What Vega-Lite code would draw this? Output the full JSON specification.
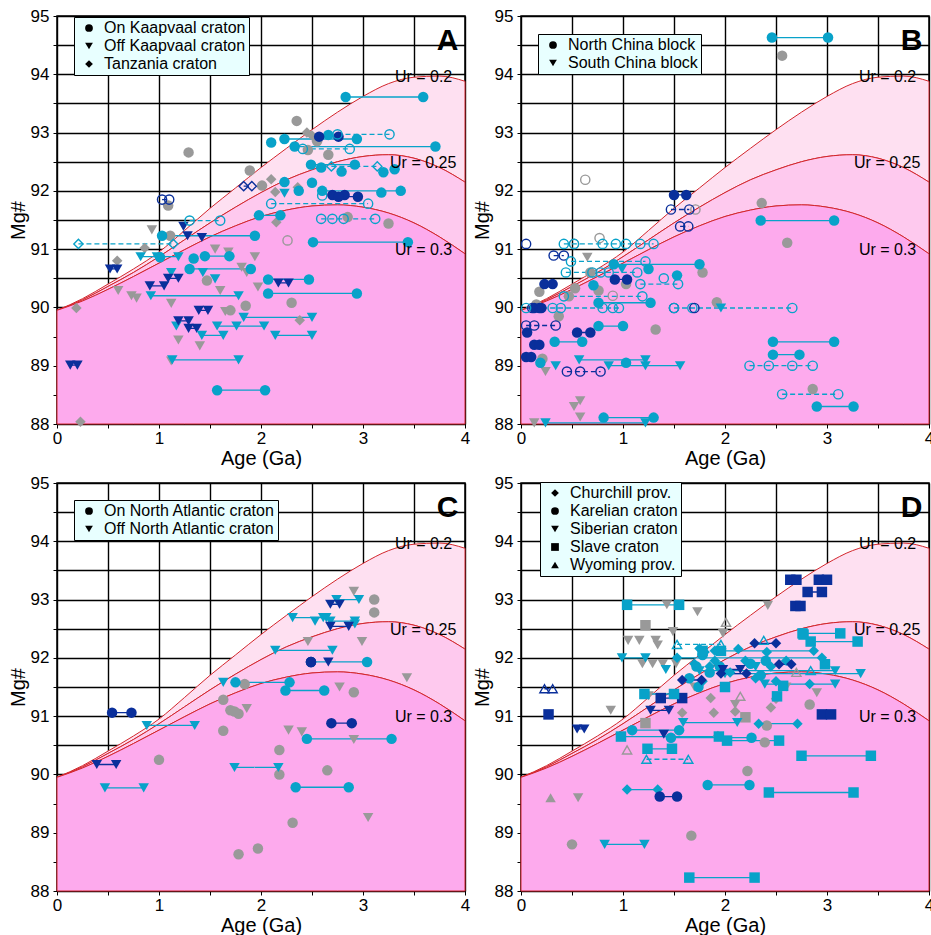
{
"$schema":"https://vega.github.io/schema/vega-lite/v6.json",
"padding":{"left":7,"top":6,"right":0,"bottom":0},
"background":"white",
"config":{
 "font":"Liberation Sans",
 "view":{"stroke":"#000","strokeWidth":1.5},
 "axis":{"labelFontSize":17,"titleFontSize":20,"titleFontWeight":"normal","labelColor":"#000","titleColor":"#000","tickColor":"#000","tickSize":4,"tickWidth":1,"gridColor":"#000","gridOpacity":1,"gridWidth":1.4,"domain":false,"labelFlush":false,"labelOverlap":false},
 "axisX":{"labelPadding":2,"titlePadding":2},
 "axisY":{"labelPadding":4,"titlePadding":2},
 "legend":{"labelFontSize":16,"labelColor":"#000","fillColor":"#e8ffff","strokeColor":"#000","padding":3,"rowPadding":2,"symbolSize":60,"symbolFillColor":"#000","symbolStrokeColor":"#000","symbolStrokeWidth":0,"symbolOffset":4,"labelOffset":7,"labelLimit":400,"symbolOpacity":1}
},
"resolve":{"scale":{"shape":"independent","color":"independent","stroke":"independent","fill":"independent","strokeDash":"independent"},"legend":{"shape":"independent"}},
"datasets":{
"cur":[
{"a":0,"m":89.95,"lo":89.95,"b":"l"},{"a":0.25,"m":90.15,"lo":90.13,"b":"l"},{"a":0.5,"m":90.40,"lo":90.36,"b":"l"},{"a":0.75,"m":90.66,"lo":90.60,"b":"l"},{"a":1,"m":90.95,"lo":90.87,"b":"l"},{"a":1.25,"m":91.32,"lo":91.16,"b":"l"},{"a":1.5,"m":91.70,"lo":91.45,"b":"l"},{"a":1.75,"m":92.05,"lo":91.72,"b":"l"},{"a":2,"m":92.40,"lo":91.97,"b":"l"},{"a":2.25,"m":92.73,"lo":92.19,"b":"l"},{"a":2.5,"m":93.05,"lo":92.36,"b":"l"},{"a":2.75,"m":93.35,"lo":92.50,"b":"l"},{"a":3,"m":93.62,"lo":92.59,"b":"l"},{"a":3.25,"m":93.84,"lo":92.62,"b":"l"},{"a":3.5,"m":93.95,"lo":92.56,"b":"l"},{"a":3.75,"m":93.97,"lo":92.40,"b":"l"},{"a":4,"m":93.88,"lo":92.15,"b":"l"},
{"a":0,"m":89.95,"lo":89.95,"b":"mi"},{"a":0.25,"m":90.13,"lo":90.11,"b":"mi"},{"a":0.5,"m":90.36,"lo":90.31,"b":"mi"},{"a":0.75,"m":90.60,"lo":90.53,"b":"mi"},{"a":1,"m":90.87,"lo":90.76,"b":"mi"},{"a":1.25,"m":91.16,"lo":90.99,"b":"mi"},{"a":1.5,"m":91.45,"lo":91.21,"b":"mi"},{"a":1.75,"m":91.72,"lo":91.40,"b":"mi"},{"a":2,"m":91.97,"lo":91.56,"b":"mi"},{"a":2.25,"m":92.19,"lo":91.67,"b":"mi"},{"a":2.5,"m":92.36,"lo":91.74,"b":"mi"},{"a":2.75,"m":92.50,"lo":91.76,"b":"mi"},{"a":3,"m":92.59,"lo":91.72,"b":"mi"},{"a":3.25,"m":92.62,"lo":91.62,"b":"mi"},{"a":3.5,"m":92.56,"lo":91.45,"b":"mi"},{"a":3.75,"m":92.40,"lo":91.21,"b":"mi"},{"a":4,"m":92.15,"lo":90.92,"b":"mi"},
{"a":0,"m":89.95,"lo":88,"b":"h"},{"a":0.25,"m":90.11,"lo":88,"b":"h"},{"a":0.5,"m":90.31,"lo":88,"b":"h"},{"a":0.75,"m":90.53,"lo":88,"b":"h"},{"a":1,"m":90.76,"lo":88,"b":"h"},{"a":1.25,"m":90.99,"lo":88,"b":"h"},{"a":1.5,"m":91.21,"lo":88,"b":"h"},{"a":1.75,"m":91.40,"lo":88,"b":"h"},{"a":2,"m":91.56,"lo":88,"b":"h"},{"a":2.25,"m":91.67,"lo":88,"b":"h"},{"a":2.5,"m":91.74,"lo":88,"b":"h"},{"a":2.75,"m":91.76,"lo":88,"b":"h"},{"a":3,"m":91.72,"lo":88,"b":"h"},{"a":3.25,"m":91.62,"lo":88,"b":"h"},{"a":3.5,"m":91.45,"lo":88,"b":"h"},{"a":3.75,"m":91.21,"lo":88,"b":"h"},{"a":4,"m":90.92,"lo":88,"b":"h"}
],
"ur":[{"a":3.875,"m":93.96,"t":"Ur = 0.2"},{"a":3.915,"m":92.47,"t":"Ur = 0.25"},{"a":3.875,"m":90.99,"t":"Ur = 0.3"}],
"let":[{"p":"A","a":3.83,"m":94.57,"t":"A"},{"p":"B","a":3.83,"m":94.57,"t":"B"},{"p":"C","a":3.83,"m":94.57,"t":"C"},{"p":"D","a":3.83,"m":94.57,"t":"D"}],
"ties":[
{"p":"A","a":2.83,"a2":3.59,"m":93.61,"s":"on","t":"c","o":0},
{"p":"A","a":2.57,"a2":2.76,"m":92.93,"s":"on","t":"d","o":0},
{"p":"A","a":2.75,"a2":3.26,"m":92.97,"s":"on","t":"c","o":1},
{"p":"A","a":2.23,"a2":2.94,"m":92.89,"s":"on","t":"c","o":0},
{"p":"A","a":2.33,"a2":3.71,"m":92.76,"s":"on","t":"c","o":0},
{"p":"A","a":2.41,"a2":2.87,"m":92.72,"s":"on","t":"c","o":1},
{"p":"A","a":2.49,"a2":2.92,"m":92.45,"s":"on","t":"c","o":0},
{"p":"A","a":2.69,"a2":3.14,"m":92.42,"s":"tz","t":"c","o":1},
{"p":"A","a":1.83,"a2":1.91,"m":92.08,"s":"tz","t":"d","o":1},
{"p":"A","a":2.60,"a2":3.37,"m":92.0,"s":"on","t":"c","o":0},
{"p":"A","a":2.70,"a2":2.82,"m":91.93,"s":"on","t":"d","o":0},
{"p":"A","a":2.76,"a2":2.95,"m":91.90,"s":"on","t":"d","o":0},
{"p":"A","a":2.10,"a2":3.05,"m":91.78,"s":"on","t":"c","o":1},
{"p":"A","a":1.03,"a2":1.10,"m":91.85,"s":"on","t":"d","o":1},
{"p":"A","a":1.98,"a2":2.19,"m":91.58,"s":"on","t":"c","o":0},
{"p":"A","a":2.59,"a2":3.12,"m":91.52,"s":"on","t":"c","o":1},
{"p":"A","a":1.30,"a2":1.60,"m":91.49,"s":"on","t":"c","o":1},
{"p":"A","a":0.21,"a2":1.14,"m":91.09,"s":"tz","t":"c","o":1},
{"p":"A","a":1.03,"a2":1.94,"m":91.23,"s":"on","t":"c","o":0},
{"p":"A","a":2.51,"a2":3.44,"m":91.12,"s":"on","t":"c","o":0},
{"p":"A","a":0.82,"a2":1.19,"m":90.87,"s":"off","t":"c","o":0},
{"p":"A","a":1.45,"a2":1.69,"m":90.88,"s":"on","t":"c","o":0},
{"p":"A","a":0.52,"a2":0.59,"m":90.66,"s":"off","t":"d","o":0},
{"p":"A","a":1.30,"a2":1.90,"m":90.66,"s":"on","t":"c","o":0},
{"p":"A","a":2.07,"a2":2.47,"m":90.48,"s":"on","t":"c","o":0},
{"p":"A","a":2.17,"a2":2.27,"m":90.42,"s":"off","t":"d","o":0},
{"p":"A","a":0.91,"a2":1.05,"m":90.37,"s":"off","t":"d","o":0},
{"p":"A","a":2.07,"a2":2.94,"m":90.24,"s":"on","t":"c","o":0},
{"p":"A","a":0.92,"a2":1.78,"m":90.20,"s":"off","t":"c","o":0},
{"p":"A","a":1.39,"a2":1.48,"m":89.95,"s":"off","t":"d","o":0},
{"p":"A","a":1.83,"a2":2.50,"m":89.83,"s":"off","t":"c","o":0},
{"p":"A","a":1.19,"a2":1.29,"m":89.77,"s":"off","t":"d","o":0},
{"p":"A","a":1.29,"a2":1.37,"m":89.64,"s":"off","t":"d","o":0},
{"p":"A","a":1.57,"a2":2.03,"m":89.68,"s":"off","t":"c","o":0},
{"p":"A","a":1.42,"a2":1.63,"m":89.52,"s":"off","t":"c","o":0},
{"p":"A","a":2.14,"a2":2.50,"m":89.52,"s":"off","t":"c","o":0},
{"p":"A","a":0.13,"a2":0.20,"m":89.01,"s":"off","t":"d","o":0},
{"p":"A","a":1.13,"a2":1.78,"m":89.10,"s":"off","t":"c","o":0},
{"p":"A","a":1.57,"a2":2.04,"m":88.58,"s":"on","t":"c","o":0},
{"p":"A","a":1.09,"a2":1.19,"m":90.50,"s":"off","t":"d","o":0},
{"p":"B","a":2.46,"a2":3.01,"m":94.63,"s":"nc","t":"c","o":0},
{"p":"B","a":1.50,"a2":1.62,"m":91.93,"s":"nc","t":"d","o":0},
{"p":"B","a":1.47,"a2":1.65,"m":91.68,"s":"nc","t":"d","o":1},
{"p":"B","a":2.35,"a2":3.07,"m":91.49,"s":"nc","t":"c","o":0},
{"p":"B","a":1.56,"a2":1.64,"m":91.39,"s":"nc","t":"d","o":1},
{"p":"B","a":0.42,"a2":1.30,"m":91.09,"s":"nc","t":"c","o":1},
{"p":"B","a":0.32,"a2":0.42,"m":90.89,"s":"nc","t":"d","o":1},
{"p":"B","a":0.49,"a2":1.22,"m":90.79,"s":"nc","t":"c","o":1},
{"p":"B","a":0.91,"a2":1.75,"m":90.74,"s":"nc","t":"c","o":0},
{"p":"B","a":0.44,"a2":1.14,"m":90.60,"s":"nc","t":"c","o":1},
{"p":"B","a":0.92,"a2":1.04,"m":90.48,"s":"nc","t":"d","o":0},
{"p":"B","a":1.17,"a2":1.54,"m":90.40,"s":"nc","t":"c","o":1},
{"p":"B","a":0.23,"a2":0.31,"m":90.40,"s":"nc","t":"d","o":0},
{"p":"B","a":0.42,"a2":1.19,"m":90.19,"s":"nc","t":"c","o":1},
{"p":"B","a":0.76,"a2":1.27,"m":90.08,"s":"nc","t":"c","o":0},
{"p":"B","a":0.05,"a2":0.96,"m":89.99,"s":"nc","t":"c","o":1},
{"p":"B","a":1.50,"a2":2.66,"m":89.99,"s":"nc","t":"c","o":1},
{"p":"B","a":0.05,"a2":0.34,"m":89.69,"s":"nc","t":"d","o":1},
{"p":"B","a":0.76,"a2":1.00,"m":89.68,"s":"nc","t":"c","o":0},
{"p":"B","a":0.55,"a2":0.68,"m":89.57,"s":"nc","t":"d","o":0},
{"p":"B","a":0.13,"a2":0.18,"m":89.36,"s":"nc","t":"d","o":0},
{"p":"B","a":0.33,"a2":0.60,"m":89.41,"s":"nc","t":"c","o":0},
{"p":"B","a":2.47,"a2":3.07,"m":89.41,"s":"nc","t":"c","o":0},
{"p":"B","a":2.47,"a2":2.73,"m":89.19,"s":"nc","t":"c","o":0},
{"p":"B","a":0.57,"a2":1.22,"m":89.10,"s":"sc","t":"c","o":0},
{"p":"B","a":0.86,"a2":1.56,"m":89.00,"s":"sc","t":"c","o":0},
{"p":"B","a":0.45,"a2":0.78,"m":88.90,"s":"nc","t":"d","o":1},
{"p":"B","a":2.24,"a2":2.86,"m":89.00,"s":"nc","t":"c","o":1},
{"p":"B","a":2.56,"a2":3.11,"m":88.51,"s":"nc","t":"c","o":1},
{"p":"B","a":2.90,"a2":3.26,"m":88.30,"s":"nc","t":"c","o":0},
{"p":"B","a":0.81,"a2":1.30,"m":88.11,"s":"nc","t":"c","o":0},
{"p":"B","a":0.24,"a2":1.22,"m":88.02,"s":"sc","t":"c","o":0},
{"p":"C","a":2.74,"a2":2.96,"m":93.00,"s":"off","t":"c","o":0},
{"p":"C","a":2.68,"a2":2.77,"m":92.92,"s":"off","t":"d","o":0},
{"p":"C","a":2.31,"a2":2.61,"m":92.69,"s":"off","t":"c","o":0},
{"p":"C","a":2.68,"a2":2.92,"m":92.63,"s":"off","t":"c","o":0},
{"p":"C","a":2.68,"a2":2.86,"m":92.54,"s":"off","t":"d","o":0},
{"p":"C","a":2.14,"a2":2.70,"m":92.13,"s":"off","t":"c","o":0},
{"p":"C","a":2.49,"a2":3.04,"m":91.93,"s":"on","t":"c","o":0},
{"p":"C","a":2.49,"a2":2.49,"m":91.93,"s":"on","t":"d","o":0},
{"p":"C","a":1.75,"a2":2.28,"m":91.58,"s":"on","t":"c","o":0},
{"p":"C","a":2.24,"a2":2.62,"m":91.44,"s":"on","t":"c","o":0},
{"p":"C","a":0.54,"a2":0.73,"m":91.06,"s":"on","t":"d","o":0},
{"p":"C","a":2.69,"a2":2.89,"m":90.88,"s":"on","t":"d","o":0},
{"p":"C","a":0.88,"a2":1.35,"m":90.84,"s":"off","t":"c","o":0},
{"p":"C","a":2.45,"a2":3.28,"m":90.61,"s":"on","t":"c","o":0},
{"p":"C","a":0.39,"a2":0.58,"m":90.17,"s":"off","t":"d","o":0},
{"p":"C","a":1.74,"a2":2.17,"m":90.12,"s":"off","t":"c","o":0},
{"p":"C","a":0.47,"a2":0.85,"m":89.77,"s":"off","t":"c","o":0},
{"p":"C","a":2.34,"a2":2.86,"m":89.78,"s":"on","t":"c","o":0},
{"p":"D","a":2.64,"a2":2.70,"m":93.34,"s":"sl","t":"d","o":0},
{"p":"D","a":2.92,"a2":3.00,"m":93.34,"s":"sl","t":"d","o":0},
{"p":"D","a":2.81,"a2":2.95,"m":93.13,"s":"sl","t":"d","o":0},
{"p":"D","a":2.69,"a2":2.74,"m":92.89,"s":"sl","t":"d","o":0},
{"p":"D","a":1.04,"a2":1.55,"m":92.91,"s":"sl","t":"c","o":0},
{"p":"D","a":2.76,"a2":3.13,"m":92.42,"s":"sl","t":"c","o":0},
{"p":"D","a":2.84,"a2":3.30,"m":92.28,"s":"sl","t":"c","o":0},
{"p":"D","a":1.53,"a2":1.96,"m":92.23,"s":"wy","t":"c","o":1},
{"p":"D","a":2.29,"a2":2.50,"m":92.25,"s":"ch","t":"d","o":0},
{"p":"D","a":0.99,"a2":1.22,"m":92.00,"s":"si","t":"c","o":0},
{"p":"D","a":1.58,"a2":1.77,"m":91.62,"s":"ch","t":"d","o":0},
{"p":"D","a":1.37,"a2":1.58,"m":91.31,"s":"sl","t":"d","o":0},
{"p":"D","a":1.21,"a2":1.50,"m":91.38,"s":"sl","t":"c","o":0},
{"p":"D","a":1.27,"a2":1.45,"m":91.10,"s":"si","t":"d","o":0},
{"p":"D","a":1.59,"a2":2.12,"m":90.89,"s":"si","t":"c","o":0},
{"p":"D","a":2.33,"a2":2.71,"m":90.87,"s":"ch","t":"c","o":0},
{"p":"D","a":2.95,"a2":3.04,"m":91.03,"s":"sl","t":"d","o":0},
{"p":"D","a":1.09,"a2":1.55,"m":90.76,"s":"ka","t":"c","o":0},
{"p":"D","a":0.98,"a2":1.94,"m":90.65,"s":"sl","t":"c","o":0},
{"p":"D","a":1.47,"a2":2.26,"m":90.63,"s":"ka","t":"c","o":0},
{"p":"D","a":2.02,"a2":2.53,"m":90.58,"s":"sl","t":"c","o":0},
{"p":"D","a":1.24,"a2":1.48,"m":90.44,"s":"sl","t":"c","o":0},
{"p":"D","a":1.23,"a2":1.64,"m":90.26,"s":"wy","t":"c","o":1},
{"p":"D","a":2.75,"a2":3.43,"m":90.32,"s":"sl","t":"c","o":0},
{"p":"D","a":1.83,"a2":2.24,"m":89.82,"s":"ka","t":"c","o":0},
{"p":"D","a":1.04,"a2":1.34,"m":89.74,"s":"ch","t":"c","o":0},
{"p":"D","a":2.43,"a2":3.26,"m":89.69,"s":"sl","t":"c","o":0},
{"p":"D","a":1.36,"a2":1.53,"m":89.62,"s":"ka","t":"d","o":0},
{"p":"D","a":0.82,"a2":1.21,"m":88.80,"s":"si","t":"c","o":0},
{"p":"D","a":1.65,"a2":2.29,"m":88.23,"s":"sl","t":"c","o":0},
{"p":"D","a":0.23,"a2":0.31,"m":91.47,"s":"wy","t":"d","o":1},
{"p":"D","a":0.55,"a2":0.62,"m":90.78,"s":"si","t":"d","o":0},
{"p":"D","a":1.75,"a2":3.08,"m":91.78,"s":"si","t":"c","o":0},
{"p":"D","a":2.39,"a2":3.08,"m":91.55,"s":"si","t":"c","o":0},
{"p":"D","a":1.90,"a2":2.87,"m":92.12,"s":"ch","t":"c","o":0},
{"p":"D","a":2.00,"a2":3.33,"m":91.73,"s":"si","t":"c","o":0},
{"p":"D","a":1.96,"a2":2.21,"m":91.73,"s":"ch","t":"d","o":0},
{"p":"D","a":2.53,"a2":2.65,"m":91.89,"s":"ch","t":"d","o":0},
{"p":"D","a":1.98,"a2":2.15,"m":91.80,"s":"si","t":"d","o":0},
{"p":"D","a":1.53,"a2":2.95,"m":92.00,"s":"ch","t":"c","o":0}
],
"pts":[
{"p":"A","a":2.35,"m":93.20,"s":"on","t":"g","o":0},{"p":"A","a":1.29,"m":92.66,"s":"on","t":"g","o":0},{"p":"A","a":2.66,"m":92.62,"s":"on","t":"g","o":0},{"p":"A","a":2.46,"m":92.70,"s":"on","t":"g","o":0},{"p":"A","a":1.89,"m":92.35,"s":"on","t":"g","o":0},{"p":"A","a":2.01,"m":92.09,"s":"on","t":"g","o":0},{"p":"A","a":1.09,"m":91.75,"s":"on","t":"g","o":0},{"p":"A","a":1.11,"m":91.23,"s":"on","t":"g","o":0},{"p":"A","a":3.25,"m":91.44,"s":"on","t":"g","o":0},{"p":"A","a":1.47,"m":90.46,"s":"on","t":"g","o":0},{"p":"A","a":2.30,"m":90.08,"s":"on","t":"g","o":0},{"p":"A","a":1.70,"m":89.95,"s":"on","t":"g","o":0},{"p":"A","a":1.85,"m":90.03,"s":"on","t":"g","o":0},{"p":"A","a":2.55,"m":92.85,"s":"on","t":"g","o":0},{"p":"A","a":2.85,"m":91.55,"s":"on","t":"g","o":0},
{"p":"A","a":2.26,"m":91.15,"s":"on","t":"g","o":1},
{"p":"A","a":2.45,"m":93.0,"s":"tz","t":"g","o":0},{"p":"A","a":2.10,"m":92.2,"s":"tz","t":"g","o":0},{"p":"A","a":2.14,"m":91.98,"s":"tz","t":"g","o":0},{"p":"A","a":2.15,"m":91.46,"s":"tz","t":"g","o":0},{"p":"A","a":0.86,"m":91.02,"s":"tz","t":"g","o":0},{"p":"A","a":0.59,"m":90.8,"s":"tz","t":"g","o":0},{"p":"A","a":0.19,"m":89.99,"s":"tz","t":"g","o":0},{"p":"A","a":2.38,"m":89.78,"s":"tz","t":"g","o":0},{"p":"A","a":0.23,"m":88.04,"s":"tz","t":"g","o":0},{"p":"A","a":2.36,"m":92.06,"s":"tz","t":"g","o":0},{"p":"A","a":2.50,"m":92.95,"s":"tz","t":"g","o":0},
{"p":"A","a":0.93,"m":91.33,"s":"off","t":"g","o":0},{"p":"A","a":1.94,"m":90.87,"s":"off","t":"g","o":0},{"p":"A","a":1.55,"m":91.0,"s":"off","t":"g","o":0},{"p":"A","a":1.68,"m":90.95,"s":"off","t":"g","o":0},{"p":"A","a":1.60,"m":90.29,"s":"off","t":"g","o":0},{"p":"A","a":1.81,"m":90.69,"s":"off","t":"g","o":0},{"p":"A","a":1.86,"m":90.6,"s":"off","t":"g","o":0},{"p":"A","a":1.97,"m":90.35,"s":"off","t":"g","o":0},{"p":"A","a":0.60,"m":90.29,"s":"off","t":"g","o":0},{"p":"A","a":0.73,"m":90.2,"s":"off","t":"g","o":0},{"p":"A","a":0.78,"m":90.16,"s":"off","t":"g","o":0},{"p":"A","a":1.12,"m":90.07,"s":"off","t":"g","o":0},{"p":"A","a":1.65,"m":89.93,"s":"off","t":"g","o":0},{"p":"A","a":1.19,"m":89.44,"s":"off","t":"g","o":0},{"p":"A","a":1.40,"m":89.34,"s":"off","t":"g","o":0},{"p":"A","a":1.12,"m":89.08,"s":"off","t":"g","o":0},
{"p":"A","a":2.10,"m":92.83,"s":"on","t":"c","o":0},{"p":"A","a":2.66,"m":92.96,"s":"on","t":"c","o":0},{"p":"A","a":2.50,"m":92.14,"s":"on","t":"c","o":0},{"p":"A","a":2.23,"m":92.15,"s":"on","t":"c","o":0},{"p":"A","a":2.37,"m":92.0,"s":"on","t":"c","o":0},{"p":"A","a":3.18,"m":91.97,"s":"on","t":"c","o":0},{"p":"A","a":2.79,"m":92.33,"s":"on","t":"c","o":0},{"p":"A","a":3.20,"m":92.32,"s":"on","t":"c","o":0},{"p":"A","a":3.31,"m":92.37,"s":"on","t":"c","o":0},{"p":"A","a":1.01,"m":90.86,"s":"on","t":"c","o":0},{"p":"A","a":1.34,"m":90.84,"s":"on","t":"c","o":0},{"p":"A","a":2.59,"m":92.40,"s":"on","t":"c","o":0},
{"p":"A","a":2.23,"m":91.96,"s":"off","t":"c","o":0},{"p":"A","a":1.12,"m":90.6,"s":"off","t":"c","o":0},{"p":"A","a":1.43,"m":90.6,"s":"off","t":"c","o":0},{"p":"A","a":1.55,"m":90.49,"s":"off","t":"c","o":0},{"p":"A","a":0.98,"m":90.87,"s":"off","t":"c","o":0},{"p":"A","a":1.76,"m":89.68,"s":"off","t":"c","o":0},{"p":"A","a":1.17,"m":89.68,"s":"off","t":"c","o":0},
{"p":"A","a":2.60,"m":91.92,"s":"on","t":"c","o":1},{"p":"A","a":2.70,"m":91.52,"s":"on","t":"c","o":1},{"p":"A","a":2.81,"m":91.52,"s":"on","t":"c","o":1},
{"p":"A","a":1.24,"m":91.39,"s":"off","t":"d","o":0},{"p":"A","a":1.28,"m":91.23,"s":"off","t":"d","o":0},{"p":"A","a":1.42,"m":91.2,"s":"off","t":"d","o":0},
{"p":"B","a":2.56,"m":94.32,"s":"nc","t":"g","o":0},{"p":"B","a":2.36,"m":91.79,"s":"nc","t":"g","o":0},{"p":"B","a":2.61,"m":91.11,"s":"nc","t":"g","o":0},{"p":"B","a":1.78,"m":90.60,"s":"nc","t":"g","o":0},{"p":"B","a":0.68,"m":90.60,"s":"nc","t":"g","o":0},{"p":"B","a":0.18,"m":90.27,"s":"nc","t":"g","o":0},{"p":"B","a":0.53,"m":90.33,"s":"nc","t":"g","o":0},{"p":"B","a":0.76,"m":90.29,"s":"nc","t":"g","o":0},{"p":"B","a":1.03,"m":90.40,"s":"nc","t":"g","o":0},{"p":"B","a":0.47,"m":90.19,"s":"nc","t":"g","o":0},{"p":"B","a":1.92,"m":90.09,"s":"nc","t":"g","o":0},{"p":"B","a":0.37,"m":89.85,"s":"nc","t":"g","o":0},{"p":"B","a":1.32,"m":89.62,"s":"nc","t":"g","o":0},{"p":"B","a":0.21,"m":89.12,"s":"nc","t":"g","o":0},{"p":"B","a":2.86,"m":88.60,"s":"nc","t":"g","o":0},{"p":"B","a":0.15,"m":90.05,"s":"nc","t":"g","o":0},
{"p":"B","a":0.63,"m":92.19,"s":"nc","t":"g","o":1},{"p":"B","a":1.71,"m":91.68,"s":"nc","t":"g","o":1},{"p":"B","a":0.77,"m":91.19,"s":"nc","t":"g","o":1},{"p":"B","a":0.52,"m":91.09,"s":"nc","t":"g","o":1},{"p":"B","a":0.90,"m":90.20,"s":"nc","t":"g","o":1},
{"p":"B","a":0.52,"m":91.09,"s":"nc","t":"c","o":1},{"p":"B","a":0.80,"m":91.09,"s":"nc","t":"c","o":1},{"p":"B","a":0.93,"m":91.09,"s":"nc","t":"c","o":1},{"p":"B","a":1.03,"m":91.09,"s":"nc","t":"c","o":1},{"p":"B","a":1.17,"m":91.09,"s":"nc","t":"c","o":1},{"p":"B","a":0.70,"m":90.60,"s":"nc","t":"c","o":1},{"p":"B","a":0.78,"m":90.60,"s":"nc","t":"c","o":1},{"p":"B","a":0.86,"m":90.60,"s":"nc","t":"c","o":1},{"p":"B","a":1.40,"m":90.50,"s":"nc","t":"c","o":1},{"p":"B","a":0.31,"m":89.99,"s":"nc","t":"c","o":1},{"p":"B","a":0.39,"m":89.99,"s":"nc","t":"c","o":1},{"p":"B","a":0.80,"m":89.99,"s":"nc","t":"c","o":1},{"p":"B","a":0.90,"m":89.99,"s":"nc","t":"c","o":1},{"p":"B","a":2.43,"m":89.0,"s":"nc","t":"c","o":1},{"p":"B","a":2.66,"m":89.0,"s":"nc","t":"c","o":1},{"p":"B","a":1.68,"m":89.99,"s":"nc","t":"c","o":1},
{"p":"B","a":0.05,"m":91.09,"s":"nc","t":"d","o":1},{"p":"B","a":0.11,"m":89.99,"s":"nc","t":"d","o":1},{"p":"B","a":0.18,"m":89.99,"s":"nc","t":"d","o":1},{"p":"B","a":1.50,"m":89.99,"s":"nc","t":"d","o":1},{"p":"B","a":1.70,"m":89.99,"s":"nc","t":"d","o":1},{"p":"B","a":0.58,"m":88.9,"s":"nc","t":"d","o":1},{"p":"B","a":0.13,"m":89.69,"s":"nc","t":"d","o":1},
{"p":"B","a":0.13,"m":89.99,"s":"nc","t":"d","o":0},{"p":"B","a":0.20,"m":89.99,"s":"nc","t":"d","o":0},{"p":"B","a":0.06,"m":89.57,"s":"nc","t":"d","o":0},{"p":"B","a":0.05,"m":89.15,"s":"nc","t":"d","o":0},{"p":"B","a":0.10,"m":89.15,"s":"nc","t":"d","o":0},
{"p":"B","a":0.65,"m":90.86,"s":"sc","t":"g","o":0},{"p":"B","a":0.24,"m":88.90,"s":"sc","t":"g","o":0},{"p":"B","a":0.52,"m":88.30,"s":"sc","t":"g","o":0},{"p":"B","a":0.58,"m":88.40,"s":"sc","t":"g","o":0},{"p":"B","a":0.58,"m":88.12,"s":"sc","t":"g","o":0},{"p":"B","a":0.13,"m":88.02,"s":"sc","t":"g","o":0},
{"p":"B","a":0.99,"m":90.66,"s":"sc","t":"c","o":0},{"p":"B","a":0.34,"m":89.0,"s":"sc","t":"c","o":0},{"p":"B","a":1.96,"m":89.99,"s":"sc","t":"c","o":0},{"p":"B","a":1.22,"m":89.0,"s":"sc","t":"c","o":0},
{"p":"B","a":1.25,"m":90.66,"s":"nc","t":"c","o":0},{"p":"B","a":1.53,"m":90.55,"s":"nc","t":"c","o":0},{"p":"B","a":0.71,"m":90.38,"s":"nc","t":"c","o":0},{"p":"B","a":0.19,"m":89.05,"s":"nc","t":"c","o":0},{"p":"B","a":1.03,"m":89.05,"s":"nc","t":"c","o":0},
{"p":"C","a":2.91,"m":93.14,"s":"off","t":"g","o":0},{"p":"C","a":2.46,"m":92.28,"s":"off","t":"g","o":0},{"p":"C","a":2.99,"m":92.28,"s":"off","t":"g","o":0},{"p":"C","a":3.43,"m":91.66,"s":"off","t":"g","o":0},{"p":"C","a":2.77,"m":91.50,"s":"off","t":"g","o":0},{"p":"C","a":1.86,"m":91.13,"s":"off","t":"g","o":0},{"p":"C","a":2.27,"m":90.76,"s":"off","t":"g","o":0},{"p":"C","a":2.40,"m":90.73,"s":"off","t":"g","o":0},{"p":"C","a":2.91,"m":90.60,"s":"off","t":"g","o":0},{"p":"C","a":3.05,"m":89.26,"s":"off","t":"g","o":0},
{"p":"C","a":3.11,"m":93.00,"s":"on","t":"g","o":0},{"p":"C","a":3.11,"m":92.78,"s":"on","t":"g","o":0},{"p":"C","a":1.84,"m":91.55,"s":"on","t":"g","o":0},{"p":"C","a":2.91,"m":91.41,"s":"on","t":"g","o":0},{"p":"C","a":1.63,"m":91.28,"s":"on","t":"g","o":0},{"p":"C","a":1.70,"m":91.10,"s":"on","t":"g","o":0},{"p":"C","a":1.78,"m":91.04,"s":"on","t":"g","o":0},{"p":"C","a":1.74,"m":91.08,"s":"on","t":"g","o":0},{"p":"C","a":1.63,"m":90.75,"s":"on","t":"g","o":0},{"p":"C","a":2.18,"m":90.42,"s":"on","t":"g","o":0},{"p":"C","a":1.00,"m":90.25,"s":"on","t":"g","o":0},{"p":"C","a":2.18,"m":90.00,"s":"on","t":"g","o":0},{"p":"C","a":2.65,"m":90.07,"s":"on","t":"g","o":0},{"p":"C","a":2.31,"m":89.17,"s":"on","t":"g","o":0},{"p":"C","a":1.78,"m":88.63,"s":"on","t":"g","o":0},{"p":"C","a":1.97,"m":88.73,"s":"on","t":"g","o":0},
{"p":"C","a":1.63,"m":91.58,"s":"off","t":"c","o":0},{"p":"C","a":2.53,"m":92.63,"s":"off","t":"c","o":0},{"p":"C","a":2.64,"m":92.69,"s":"off","t":"c","o":0},{"p":"C","a":2.92,"m":92.58,"s":"off","t":"c","o":0},
{"p":"C","a":2.66,"m":91.93,"s":"off","t":"d","o":0},
{"p":"D","a":2.42,"m":92.90,"s":"si","t":"g","o":0},{"p":"D","a":1.43,"m":92.91,"s":"si","t":"g","o":0},{"p":"D","a":1.73,"m":92.79,"s":"si","t":"g","o":0},{"p":"D","a":1.98,"m":92.42,"s":"si","t":"g","o":0},{"p":"D","a":1.32,"m":92.30,"s":"si","t":"g","o":0},{"p":"D","a":1.34,"m":92.22,"s":"si","t":"g","o":0},{"p":"D","a":1.05,"m":92.30,"s":"si","t":"g","o":0},{"p":"D","a":1.16,"m":92.30,"s":"si","t":"g","o":0},{"p":"D","a":1.49,"m":92.45,"s":"si","t":"g","o":0},{"p":"D","a":1.19,"m":91.90,"s":"si","t":"g","o":0},{"p":"D","a":1.29,"m":91.90,"s":"si","t":"g","o":0},{"p":"D","a":1.39,"m":91.90,"s":"si","t":"g","o":0},{"p":"D","a":1.52,"m":91.90,"s":"si","t":"g","o":0},{"p":"D","a":0.88,"m":91.10,"s":"si","t":"g","o":0},{"p":"D","a":0.56,"m":89.60,"s":"si","t":"g","o":0},{"p":"D","a":1.70,"m":91.50,"s":"si","t":"g","o":0},{"p":"D","a":2.10,"m":91.20,"s":"si","t":"g","o":0},{"p":"D","a":1.25,"m":91.35,"s":"si","t":"g","o":0},{"p":"D","a":2.60,"m":91.50,"s":"si","t":"g","o":0},{"p":"D","a":2.90,"m":91.40,"s":"si","t":"g","o":0},
{"p":"D","a":2.01,"m":92.61,"s":"wy","t":"g","o":1},{"p":"D","a":1.04,"m":90.42,"s":"wy","t":"g","o":1},{"p":"D","a":2.15,"m":91.34,"s":"wy","t":"g","o":1},{"p":"D","a":2.70,"m":91.75,"s":"wy","t":"g","o":1},
{"p":"D","a":0.29,"m":89.60,"s":"wy","t":"g","o":0},
{"p":"D","a":1.22,"m":92.56,"s":"sl","t":"g","o":0},{"p":"D","a":1.22,"m":90.88,"s":"sl","t":"g","o":0},{"p":"D","a":2.20,"m":90.98,"s":"sl","t":"g","o":0},
{"p":"D","a":1.86,"m":91.31,"s":"ch","t":"g","o":0},{"p":"D","a":1.89,"m":91.06,"s":"ch","t":"g","o":0},{"p":"D","a":2.10,"m":91.08,"s":"ch","t":"g","o":0},{"p":"D","a":1.58,"m":91.06,"s":"ch","t":"g","o":0},{"p":"D","a":1.93,"m":90.66,"s":"ch","t":"g","o":0},{"p":"D","a":2.50,"m":91.30,"s":"ch","t":"g","o":0},{"p":"D","a":2.45,"m":91.15,"s":"ch","t":"g","o":0},
{"p":"D","a":2.83,"m":91.20,"s":"ka","t":"g","o":0},{"p":"D","a":2.41,"m":90.84,"s":"ka","t":"g","o":0},{"p":"D","a":2.39,"m":90.55,"s":"ka","t":"g","o":0},{"p":"D","a":2.22,"m":90.06,"s":"ka","t":"g","o":0},{"p":"D","a":1.67,"m":88.95,"s":"ka","t":"g","o":0},{"p":"D","a":0.50,"m":88.80,"s":"ka","t":"g","o":0},
{"p":"D","a":0.27,"m":91.03,"s":"sl","t":"d","o":0},{"p":"D","a":1.40,"m":90.69,"s":"si","t":"d","o":0},
{"p":"D","a":1.75,"m":92.16,"s":"ch","t":"c","o":0},{"p":"D","a":1.80,"m":92.10,"s":"ch","t":"c","o":0},{"p":"D","a":2.13,"m":92.15,"s":"ch","t":"c","o":0},{"p":"D","a":2.41,"m":92.10,"s":"ch","t":"c","o":0},{"p":"D","a":1.70,"m":91.90,"s":"ch","t":"c","o":0},{"p":"D","a":1.85,"m":91.85,"s":"ch","t":"c","o":0},{"p":"D","a":1.90,"m":91.95,"s":"ch","t":"c","o":0},{"p":"D","a":2.20,"m":91.95,"s":"ch","t":"c","o":0},{"p":"D","a":2.45,"m":91.85,"s":"ch","t":"c","o":0},{"p":"D","a":2.60,"m":91.95,"s":"ch","t":"c","o":0},{"p":"D","a":2.30,"m":91.65,"s":"ch","t":"c","o":0},{"p":"D","a":1.78,"m":91.60,"s":"ch","t":"c","o":0},{"p":"D","a":2.05,"m":91.75,"s":"ch","t":"c","o":0},{"p":"D","a":2.50,"m":91.60,"s":"ch","t":"c","o":0},{"p":"D","a":2.83,"m":91.55,"s":"ch","t":"c","o":0},
{"p":"D","a":1.72,"m":91.85,"s":"ka","t":"c","o":0},{"p":"D","a":1.78,"m":92.05,"s":"ka","t":"c","o":0},{"p":"D","a":1.85,"m":91.75,"s":"ka","t":"c","o":0},{"p":"D","a":1.95,"m":91.85,"s":"ka","t":"c","o":0},{"p":"D","a":2.25,"m":91.90,"s":"ka","t":"c","o":0},{"p":"D","a":2.35,"m":91.70,"s":"ka","t":"c","o":0},{"p":"D","a":1.74,"m":91.50,"s":"ka","t":"c","o":0},{"p":"D","a":2.40,"m":91.95,"s":"ka","t":"c","o":0},{"p":"D","a":1.65,"m":91.65,"s":"ka","t":"c","o":0},
{"p":"D","a":2.77,"m":92.40,"s":"sl","t":"c","o":0},{"p":"D","a":2.98,"m":91.89,"s":"sl","t":"c","o":0},{"p":"D","a":2.57,"m":91.52,"s":"sl","t":"c","o":0},{"p":"D","a":2.51,"m":91.34,"s":"sl","t":"c","o":0},{"p":"D","a":2.00,"m":91.50,"s":"sl","t":"c","o":0},{"p":"D","a":1.78,"m":92.12,"s":"sl","t":"c","o":0},{"p":"D","a":1.96,"m":92.12,"s":"sl","t":"c","o":0},
{"p":"D","a":2.30,"m":91.85,"s":"si","t":"c","o":0},{"p":"D","a":1.42,"m":91.80,"s":"si","t":"c","o":0},
{"p":"D","a":2.38,"m":92.30,"s":"wy","t":"c","o":1},{"p":"D","a":2.84,"m":91.78,"s":"wy","t":"c","o":1}
]
},
"columns":2,
"bounds":"flush",
"spacing":{"row":59,"column":56},
"concat":[
{"width":408,"height":408,
"encoding":{
 "x":{"field":"a","type":"quantitative","title":"Age (Ga)","scale":{"domain":[0,4],"nice":false,"zero":false},"axis":{"values":[0,0.5,1,1.5,2,2.5,3,3.5,4],"labelExpr":"datum.value % 1 === 0 ? format(datum.value,'d') : ''"}},
 "y":{"field":"m","type":"quantitative","title":"Mg#","scale":{"domain":[88,95],"nice":false,"zero":false},"axis":{"values":[88,88.5,89,89.5,90,90.5,91,91.5,92,92.5,93,93.5,94,94.5,95],"labelExpr":"datum.value % 1 === 0 ? format(datum.value,'d') : ''"}},
 "color":{"field":"t","type":"nominal","scale":{"domain":["d","c","g"],"range":["#0a2f9b","#08a2c9","#999999"]},"legend":null},
 "shape":{"field":"s","type":"nominal","scale":{"domain":["on","off","tz"],"range":["circle","triangle-down","diamond"]},"legend":null}
},
"layer":[
 {"data":{"name":"cur"},"mark":{"type":"area","stroke":"#d3262c","strokeWidth":1,"opacity":1,"interpolate":"monotone"},"encoding":{"y2":{"field":"lo"},"color":null,"shape":null,"fill":{"field":"b","type":"nominal","scale":{"domain":["l","mi","h"],"range":["#fee0f1","#fec9ee","#fdaaed"]},"legend":null}}},
 {"data":{"name":"ties"},"transform":[{"filter":"datum.p === 'A'"}],"mark":{"type":"rule","strokeWidth":1.3},"encoding":{"x2":{"field":"a2"},"shape":null,"strokeDash":{"field":"o","type":"nominal","scale":{"domain":[0,1],"range":[[1,0],[5,3]]},"legend":null}}},
 {"data":{"name":"pts"},"transform":[{"filter":"datum.p === 'A' && datum.o === 0"}],"mark":{"type":"point","filled":true,"size":110,"opacity":1},"encoding":{"shape":{"field":"s","type":"nominal","scale":{"domain":["on","off","tz"],"range":["circle","triangle-down","diamond"]},"legend":{"title":null,"orient":"none","legendX":17,"legendY":1,"labelExpr":"datum.label === 'on' ? 'On Kaapvaal craton' : datum.label === 'off' ? 'Off Kaapvaal craton' : 'Tanzania craton'"}}}},
 {"data":{"name":"pts"},"transform":[{"filter":"datum.p === 'A' && datum.o === 1"}],"mark":{"type":"point","filled":false,"size":85,"strokeWidth":1.4,"opacity":1}},
 {"data":{"name":"ties"},"transform":[{"filter":"datum.p === 'A' && datum.o === 0"},{"fold":["a","a2"],"as":["k","a"]}],"mark":{"type":"point","filled":true,"size":110,"opacity":1}},
 {"data":{"name":"ties"},"transform":[{"filter":"datum.p === 'A' && datum.o === 1"},{"fold":["a","a2"],"as":["k","a"]}],"mark":{"type":"point","filled":false,"size":85,"strokeWidth":1.4,"opacity":1}},
 {"data":{"name":"ur"},"mark":{"type":"text","align":"right","baseline":"middle","fontSize":16,"color":"#000"},"encoding":{"text":{"field":"t"},"color":null,"shape":null}},
 {"data":{"name":"let"},"transform":[{"filter":"datum.p === 'A'"}],"mark":{"type":"text","align":"center","baseline":"middle","fontSize":30,"fontWeight":"bold","color":"#000"},"encoding":{"text":{"field":"t"},"color":null,"shape":null}}
]},
{"width":408,"height":408,
"encoding":{
 "x":{"field":"a","type":"quantitative","title":"Age (Ga)","scale":{"domain":[0,4],"nice":false,"zero":false},"axis":{"values":[0,0.5,1,1.5,2,2.5,3,3.5,4],"labelExpr":"datum.value % 1 === 0 ? format(datum.value,'d') : ''"}},
 "y":{"field":"m","type":"quantitative","title":"Mg#","scale":{"domain":[88,95],"nice":false,"zero":false},"axis":{"values":[88,88.5,89,89.5,90,90.5,91,91.5,92,92.5,93,93.5,94,94.5,95],"labelExpr":"datum.value % 1 === 0 ? format(datum.value,'d') : ''"}},
 "color":{"field":"t","type":"nominal","scale":{"domain":["d","c","g"],"range":["#0a2f9b","#08a2c9","#999999"]},"legend":null},
 "shape":{"field":"s","type":"nominal","scale":{"domain":["nc","sc"],"range":["circle","triangle-down"]},"legend":null}
},
"layer":[
 {"data":{"name":"cur"},"mark":{"type":"area","stroke":"#d3262c","strokeWidth":1,"opacity":1,"interpolate":"monotone"},"encoding":{"y2":{"field":"lo"},"color":null,"shape":null,"fill":{"field":"b","type":"nominal","scale":{"domain":["l","mi","h"],"range":["#fee0f1","#fec9ee","#fdaaed"]},"legend":null}}},
 {"data":{"name":"ties"},"transform":[{"filter":"datum.p === 'B'"}],"mark":{"type":"rule","strokeWidth":1.3},"encoding":{"x2":{"field":"a2"},"shape":null,"strokeDash":{"field":"o","type":"nominal","scale":{"domain":[0,1],"range":[[1,0],[5,3]]},"legend":null}}},
 {"data":{"name":"pts"},"transform":[{"filter":"datum.p === 'B' && datum.o === 0"}],"mark":{"type":"point","filled":true,"size":110,"opacity":1},"encoding":{"shape":{"field":"s","type":"nominal","scale":{"domain":["nc","sc"],"range":["circle","triangle-down"]},"legend":{"title":null,"orient":"none","legendX":17,"legendY":18,"labelExpr":"datum.label === 'nc' ? 'North China block' : 'South China block'"}}}},
 {"data":{"name":"pts"},"transform":[{"filter":"datum.p === 'B' && datum.o === 1"}],"mark":{"type":"point","filled":false,"size":85,"strokeWidth":1.4,"opacity":1}},
 {"data":{"name":"ties"},"transform":[{"filter":"datum.p === 'B' && datum.o === 0"},{"fold":["a","a2"],"as":["k","a"]}],"mark":{"type":"point","filled":true,"size":110,"opacity":1}},
 {"data":{"name":"ties"},"transform":[{"filter":"datum.p === 'B' && datum.o === 1"},{"fold":["a","a2"],"as":["k","a"]}],"mark":{"type":"point","filled":false,"size":85,"strokeWidth":1.4,"opacity":1}},
 {"data":{"name":"ur"},"mark":{"type":"text","align":"right","baseline":"middle","fontSize":16,"color":"#000"},"encoding":{"text":{"field":"t"},"color":null,"shape":null}},
 {"data":{"name":"let"},"transform":[{"filter":"datum.p === 'B'"}],"mark":{"type":"text","align":"center","baseline":"middle","fontSize":30,"fontWeight":"bold","color":"#000"},"encoding":{"text":{"field":"t"},"color":null,"shape":null}}
]},
{"width":408,"height":408,
"encoding":{
 "x":{"field":"a","type":"quantitative","title":"Age (Ga)","scale":{"domain":[0,4],"nice":false,"zero":false},"axis":{"values":[0,0.5,1,1.5,2,2.5,3,3.5,4],"labelExpr":"datum.value % 1 === 0 ? format(datum.value,'d') : ''"}},
 "y":{"field":"m","type":"quantitative","title":"Mg#","scale":{"domain":[88,95],"nice":false,"zero":false},"axis":{"values":[88,88.5,89,89.5,90,90.5,91,91.5,92,92.5,93,93.5,94,94.5,95],"labelExpr":"datum.value % 1 === 0 ? format(datum.value,'d') : ''"}},
 "color":{"field":"t","type":"nominal","scale":{"domain":["d","c","g"],"range":["#0a2f9b","#08a2c9","#999999"]},"legend":null},
 "shape":{"field":"s","type":"nominal","scale":{"domain":["on","off"],"range":["circle","triangle-down"]},"legend":null}
},
"layer":[
 {"data":{"name":"cur"},"mark":{"type":"area","stroke":"#d3262c","strokeWidth":1,"opacity":1,"interpolate":"monotone"},"encoding":{"y2":{"field":"lo"},"color":null,"shape":null,"fill":{"field":"b","type":"nominal","scale":{"domain":["l","mi","h"],"range":["#fee0f1","#fec9ee","#fdaaed"]},"legend":null}}},
 {"data":{"name":"ties"},"transform":[{"filter":"datum.p === 'C'"}],"mark":{"type":"rule","strokeWidth":1.3},"encoding":{"x2":{"field":"a2"},"shape":null,"strokeDash":{"field":"o","type":"nominal","scale":{"domain":[0,1],"range":[[1,0],[5,3]]},"legend":null}}},
 {"data":{"name":"pts"},"transform":[{"filter":"datum.p === 'C' && datum.o === 0"}],"mark":{"type":"point","filled":true,"size":110,"opacity":1},"encoding":{"shape":{"field":"s","type":"nominal","scale":{"domain":["on","off"],"range":["circle","triangle-down"]},"legend":{"title":null,"orient":"none","legendX":17,"legendY":17,"labelExpr":"datum.label === 'on' ? 'On North Atlantic craton' : 'Off North Atlantic craton'"}}}},
 {"data":{"name":"pts"},"transform":[{"filter":"datum.p === 'C' && datum.o === 1"}],"mark":{"type":"point","filled":false,"size":85,"strokeWidth":1.4,"opacity":1}},
 {"data":{"name":"ties"},"transform":[{"filter":"datum.p === 'C' && datum.o === 0"},{"fold":["a","a2"],"as":["k","a"]}],"mark":{"type":"point","filled":true,"size":110,"opacity":1}},
 {"data":{"name":"ties"},"transform":[{"filter":"datum.p === 'C' && datum.o === 1"},{"fold":["a","a2"],"as":["k","a"]}],"mark":{"type":"point","filled":false,"size":85,"strokeWidth":1.4,"opacity":1}},
 {"data":{"name":"ur"},"mark":{"type":"text","align":"right","baseline":"middle","fontSize":16,"color":"#000"},"encoding":{"text":{"field":"t"},"color":null,"shape":null}},
 {"data":{"name":"let"},"transform":[{"filter":"datum.p === 'C'"}],"mark":{"type":"text","align":"center","baseline":"middle","fontSize":30,"fontWeight":"bold","color":"#000"},"encoding":{"text":{"field":"t"},"color":null,"shape":null}}
]},
{"width":408,"height":408,
"encoding":{
 "x":{"field":"a","type":"quantitative","title":"Age (Ga)","scale":{"domain":[0,4],"nice":false,"zero":false},"axis":{"values":[0,0.5,1,1.5,2,2.5,3,3.5,4],"labelExpr":"datum.value % 1 === 0 ? format(datum.value,'d') : ''"}},
 "y":{"field":"m","type":"quantitative","title":"Mg#","scale":{"domain":[88,95],"nice":false,"zero":false},"axis":{"values":[88,88.5,89,89.5,90,90.5,91,91.5,92,92.5,93,93.5,94,94.5,95],"labelExpr":"datum.value % 1 === 0 ? format(datum.value,'d') : ''"}},
 "color":{"field":"t","type":"nominal","scale":{"domain":["d","c","g"],"range":["#0a2f9b","#08a2c9","#999999"]},"legend":null},
 "shape":{"field":"s","type":"nominal","scale":{"domain":["ch","ka","si","sl","wy"],"range":["diamond","circle","triangle-down","square","triangle-up"]},"legend":null}
},
"layer":[
 {"data":{"name":"cur"},"mark":{"type":"area","stroke":"#d3262c","strokeWidth":1,"opacity":1,"interpolate":"monotone"},"encoding":{"y2":{"field":"lo"},"color":null,"shape":null,"fill":{"field":"b","type":"nominal","scale":{"domain":["l","mi","h"],"range":["#fee0f1","#fec9ee","#fdaaed"]},"legend":null}}},
 {"data":{"name":"ties"},"transform":[{"filter":"datum.p === 'D'"}],"mark":{"type":"rule","strokeWidth":1.3},"encoding":{"x2":{"field":"a2"},"shape":null,"strokeDash":{"field":"o","type":"nominal","scale":{"domain":[0,1],"range":[[1,0],[5,3]]},"legend":null}}},
 {"data":{"name":"pts"},"transform":[{"filter":"datum.p === 'D' && datum.o === 0"}],"mark":{"type":"point","filled":true,"size":110,"opacity":1},"encoding":{"shape":{"field":"s","type":"nominal","scale":{"domain":["ch","ka","si","sl","wy"],"range":["diamond","circle","triangle-down","square","triangle-up"]},"legend":{"title":null,"orient":"none","legendX":19,"legendY":-1,"labelExpr":"datum.label === 'ch' ? 'Churchill prov.' : datum.label === 'ka' ? 'Karelian craton' : datum.label === 'si' ? 'Siberian craton' : datum.label === 'sl' ? 'Slave craton' : 'Wyoming prov.'"}}}},
 {"data":{"name":"pts"},"transform":[{"filter":"datum.p === 'D' && datum.o === 1"}],"mark":{"type":"point","filled":false,"size":85,"strokeWidth":1.4,"opacity":1}},
 {"data":{"name":"ties"},"transform":[{"filter":"datum.p === 'D' && datum.o === 0"},{"fold":["a","a2"],"as":["k","a"]}],"mark":{"type":"point","filled":true,"size":110,"opacity":1}},
 {"data":{"name":"ties"},"transform":[{"filter":"datum.p === 'D' && datum.o === 1"},{"fold":["a","a2"],"as":["k","a"]}],"mark":{"type":"point","filled":false,"size":85,"strokeWidth":1.4,"opacity":1}},
 {"data":{"name":"ur"},"mark":{"type":"text","align":"right","baseline":"middle","fontSize":16,"color":"#000"},"encoding":{"text":{"field":"t"},"color":null,"shape":null}},
 {"data":{"name":"let"},"transform":[{"filter":"datum.p === 'D'"}],"mark":{"type":"text","align":"center","baseline":"middle","fontSize":30,"fontWeight":"bold","color":"#000"},"encoding":{"text":{"field":"t"},"color":null,"shape":null}}
]}
]
}
